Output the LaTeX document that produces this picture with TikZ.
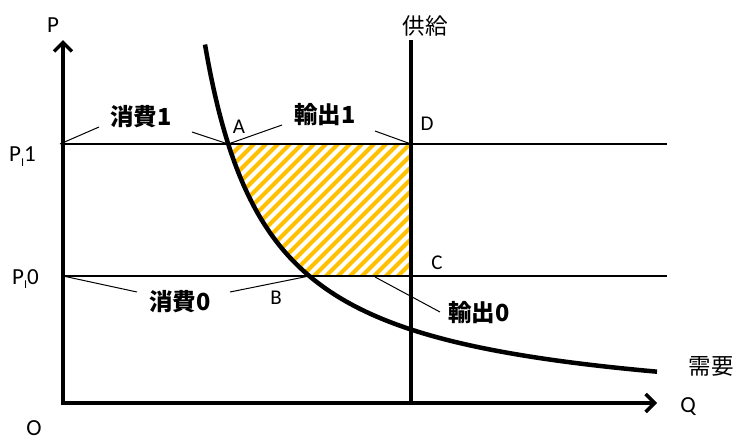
\documentclass[tikz,border=0pt]{standalone}
\usepackage{fontspec}
\setmainfont{Carlito}
\newfontfamily\cjk{Noto Sans CJK JP}
\usetikzlibrary{arrows.meta}
\definecolor{hatch}{HTML}{FFC000}
\tikzset{
  axisline/.style={line width=3.5pt, line join=miter},
  thickline/.style={line width=4.5pt},
  levelline/.style={line width=1.8pt},
  leader/.style={line width=1pt},
  letter/.style={font=\fontsize{21}{24}\selectfont, inner sep=0pt},
  bigletter/.style={font=\fontsize{23}{26}\selectfont, inner sep=0pt},
  cjklabel/.style={font=\cjk\fontsize{22.5}{26}\selectfont, inner sep=0pt},
  boldlabel/.style={font=\cjk\bfseries\fontsize{23.5}{27}\selectfont, inner sep=0pt},
}
\begin{document}
\begin{tikzpicture}[x=1pt,y=-1pt]
\useasboundingbox (0,0) rectangle (738,440);
% key points
\coordinate (O) at (63,403);
\coordinate (ytip) at (63,40);
\coordinate (xtip) at (657,403);
\coordinate (P1l) at (63,144);
\coordinate (P1r) at (667,144);
\coordinate (P0l) at (63,276);
\coordinate (P0r) at (667,276);
\coordinate (Stop) at (411,40);
\coordinate (Sbot) at (411,403);
\coordinate (A) at (228.2,144);
\coordinate (B) at (309.3,276);
\coordinate (C) at (411,276);
\coordinate (D) at (411,144);
% hatched region
\begin{scope}
  \clip (A) -- (D) -- (C) -- (B) -- plot[domain=309.3:228.2, samples=60] (\x, {418-239/((\x-141)/100)}) -- cycle;
  \foreach \k in {60,72,...,420} {
    \draw[hatch, line width=4.2pt] (\k,290) -- (\k+160,130);
  }
\end{scope}
% level lines
\draw[levelline] (P1l) -- (P1r);
\draw[levelline] (P0l) -- (P0r);
% axes
\draw[axisline, {Straight Barb[length=9pt,width=18pt]}-{Straight Barb[length=9pt,width=18pt]}] (ytip) -- (O) -- (xtip);
% supply
\draw[thickline] (Stop) -- (Sbot);
% demand
\draw[thickline] plot[domain=205:657, samples=150, smooth] (\x, {418-239/((\x-141)/100)});
% labels
\node[bigletter] (lP) at (53,25) {P};
\node[bigletter] (lO) at (34,428) {O};
\node[bigletter] (lQ) at (688,407) {Q};
\node[cjklabel] (lS) at (425,26) {供給};
\node[cjklabel] (lDem) at (711,366) {需要};
\node[letter] (lA) at (239,127) {A};
\node[letter] (lB) at (276,298) {B};
\node[letter] (lC) at (437,263) {C};
\node[letter] (lD) at (427,124) {D};
\node[bigletter, anchor=west] (lP1) at (9,157) {P\raisebox{-0.45ex}{\fontsize{12}{13}\selectfont I}1};
\node[bigletter, anchor=west] (lP0) at (12,279) {P\raisebox{-0.45ex}{\fontsize{12}{13}\selectfont I}0};
\node[boldlabel] (c1) at (141,117) {消費1};
\node[boldlabel] (e1) at (325,115) {輸出1};
\node[boldlabel] (c0) at (180,302) {消費0};
\node[boldlabel] (e0) at (479,313) {輸出0};
% leader lines
\coordinate (c1a) at (99,127);
\coordinate (c1b) at (192,132);
\coordinate (e1a) at (282,125);
\coordinate (e1b) at (375,131);
\coordinate (c0a) at (137,292);
\coordinate (c0b) at (230,292);
\coordinate (e0a) at (375,277);
\coordinate (e0b) at (440,312);
\coordinate (c1l) at (60,144);
\draw[leader] (c1l) -- (c1a);
\draw[leader] (c1b) -- (A);
\draw[leader] (A) -- (e1a);
\draw[leader] (e1b) -- (D);
\draw[leader] (P0l) -- (c0a);
\draw[leader] (c0b) -- (B);
\draw[leader] (e0a) -- (e0b);
\end{tikzpicture}
\end{document}
